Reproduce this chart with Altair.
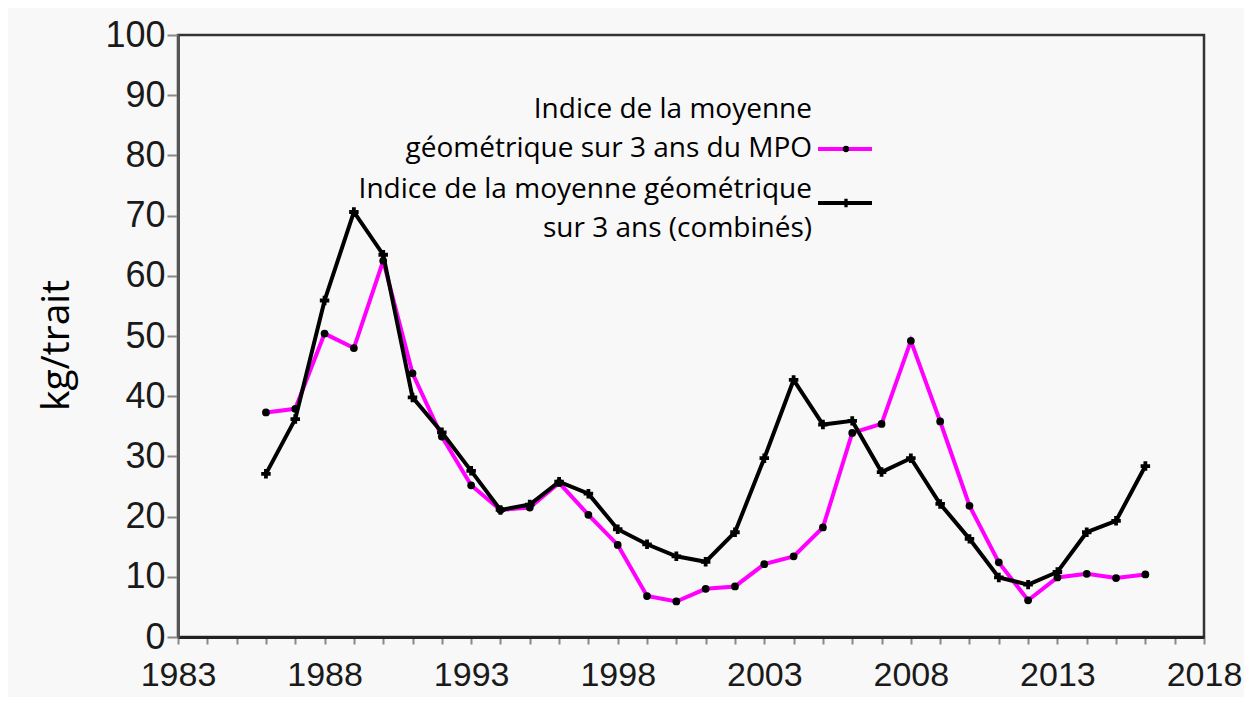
import altair as alt
import pandas as pd

years = list(range(1986, 2017))
mpo = [37.3, 37.9, 50.4, 48.0, 62.5, 43.8, 33.3, 25.2, 21.1, 21.5, 25.6, 20.3, 15.3, 6.8, 5.9, 8.0,
       8.4, 12.1, 13.4, 18.2, 33.9, 35.4, 49.2, 35.8, 21.8, 12.4, 6.1, 9.9, 10.5, 9.8, 10.4]
comb = [27.1, 36.2, 55.9, 70.6, 63.5, 39.8, 34.0, 27.6, 21.1, 22.0, 25.8, 23.8, 17.9, 15.4, 13.4, 12.5,
        17.4, 29.7, 42.7, 35.3, 35.9, 27.4, 29.7, 22.1, 16.3, 9.9, 8.7, 10.8, 17.4, 19.3, 28.4]
label_mpo = "Indice de la moyenne\ngéométrique sur 3 ans du MPO"
label_comb = "Indice de la moyenne géométrique\nsur 3 ans (combinés)"
x_ticks = list(range(1983, 2019))
y_ticks = list(range(0, 101, 10))

df = pd.DataFrame({"year": years, "mpo": mpo, "comb": comb})

MAG = "#ff00ff"
BLK = "#000000"

xenc = alt.X("year:Q", scale=alt.Scale(domain=[1983, 2018], nice=False, zero=False),
             axis=alt.Axis(values=x_ticks, format="d", title=None, grid=False,
                           labelExpr="(datum.value - 1983) % 5 == 0 ? datum.label : ''",
                           labelOverlap=False, labelFlush=False,
                           labelFont="Liberation Sans", labelFontSize=34, labelColor="#1a1a1a",
                           labelPadding=14, tickSize=7, tickColor="#888", tickWidth=2,
                           domainColor="#222", domainWidth=3))


def yenc(field):
    return alt.Y(f"{field}:Q", scale=alt.Scale(domain=[0, 100], nice=False),
                 axis=alt.Axis(values=y_ticks, title="kg/trait", grid=False,
                               labelFont="Liberation Sans", labelFontSize=36, labelColor="#1a1a1a",
                               labelPadding=2, tickSize=11, tickColor="#888", tickWidth=2,
                               domainColor="#555", domainWidth=3,
                               titleFont="Open Sans", titleFontSize=39, titleFontWeight="normal",
                               titleColor="#000", titleAngle=-90, titleX=-122, titleY=310,
                               titleAlign="center", titleBaseline="middle"))


base = alt.Chart(df)
mpo_line = base.mark_line(color=MAG, strokeWidth=4).encode(x=xenc, y=yenc("mpo"))
mpo_pts = base.mark_point(shape="circle", filled=True, color=BLK, size=60, opacity=1).encode(x=xenc, y=yenc("mpo"))
comb_line = base.mark_line(color=BLK, strokeWidth=4).encode(x=xenc, y=yenc("comb"))
comb_pts = base.mark_point(shape="cross", filled=True, color=BLK, size=90, opacity=1).encode(x=xenc, y=yenc("comb"))


def legend_text(txt, y):
    return alt.Chart(pd.DataFrame({"t": [txt]})).mark_text(
        align="right", baseline="middle", lineBreak="\n", lineHeight=39,
        font="Open Sans", fontSize=28, color="#000"
    ).encode(text="t:N", x=alt.value(634), y=alt.value(y))


def legend_rule(color, y):
    return alt.Chart(pd.DataFrame({"a": [0]})).mark_rule(color=color, strokeWidth=4).encode(
        x=alt.value(640), x2=alt.value(694), y=alt.value(y))


def legend_pt(shape, y, size):
    return alt.Chart(pd.DataFrame({"a": [0]})).mark_point(
        shape=shape, filled=True, color=BLK, size=size, opacity=1).encode(x=alt.value(668), y=alt.value(y))


chart = alt.layer(
    mpo_line, mpo_pts, comb_line, comb_pts,
    legend_text(label_mpo, 75), legend_text(label_comb, 155),
    legend_rule(MAG, 114), legend_pt("circle", 114, 40),
    legend_rule(BLK, 168), legend_pt("cross", 168, 70),
).properties(
    width=1026, height=602,
    autosize=alt.AutoSizeParams(type="none"),
    padding={"left": 170, "top": 27, "right": 40, "bottom": 60},
    background="#f8f8f8",
).configure_view(stroke="#333", strokeWidth=2.5, fill="#f8f8f8")

chart.save("out.html", embed_options={"renderer": "svg", "actions": False})
